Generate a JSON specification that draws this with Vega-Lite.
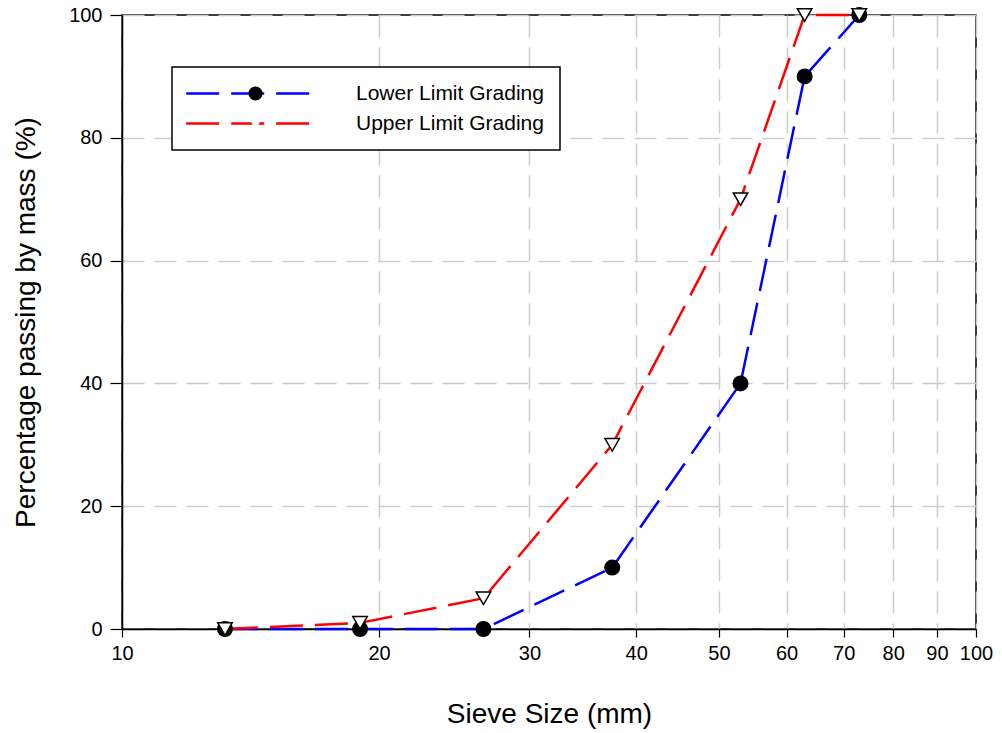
{
  "$schema": "https://vega.github.io/schema/vega-lite/v6.json",
  "width": 854,
  "height": 614,
  "autosize": {"type": "none"},
  "padding": {"left": 122, "top": 15, "right": 26, "bottom": 104},
  "background": "white",
  "config": {
    "font": "Liberation Sans",
    "view": {"stroke": "black", "strokeWidth": 1.5},
    "axis": {
      "labelFont": "Liberation Sans",
      "titleFont": "Liberation Sans",
      "labelFontSize": 20,
      "titleFontSize": 28,
      "titleFontWeight": "normal",
      "labelColor": "black",
      "titleColor": "black",
      "domainColor": "black",
      "domainWidth": 1.5,
      "tickColor": "black",
      "tickWidth": 1.2,
      "gridColor": "#cccccc",
      "gridWidth": 1.5,
      "gridDash": [22, 10]
    }
  },
  "data": {
    "values": [
      {"series": "Lower Limit Grading", "limit": "Lower", "sieve": 13.2, "passing": 0},
      {"series": "Lower Limit Grading", "limit": "Lower", "sieve": 19, "passing": 0},
      {"series": "Lower Limit Grading", "limit": "Lower", "sieve": 26.5, "passing": 0},
      {"series": "Lower Limit Grading", "limit": "Lower", "sieve": 37.5, "passing": 10},
      {"series": "Lower Limit Grading", "limit": "Lower", "sieve": 53, "passing": 40},
      {"series": "Lower Limit Grading", "limit": "Lower", "sieve": 63, "passing": 90},
      {"series": "Lower Limit Grading", "limit": "Lower", "sieve": 73, "passing": 100},
      {"series": "Upper Limit Grading", "limit": "Upper", "sieve": 13.2, "passing": 0},
      {"series": "Upper Limit Grading", "limit": "Upper", "sieve": 19, "passing": 1},
      {"series": "Upper Limit Grading", "limit": "Upper", "sieve": 26.5, "passing": 5},
      {"series": "Upper Limit Grading", "limit": "Upper", "sieve": 37.5, "passing": 30},
      {"series": "Upper Limit Grading", "limit": "Upper", "sieve": 53, "passing": 70},
      {"series": "Upper Limit Grading", "limit": "Upper", "sieve": 63, "passing": 100},
      {"series": "Upper Limit Grading", "limit": "Upper", "sieve": 73, "passing": 100}
    ]
  },
  "encoding": {
    "x": {
      "field": "sieve",
      "type": "quantitative",
      "scale": {"type": "log", "domain": [10, 100], "nice": false},
      "axis": {
        "title": "Sieve Size (mm)",
        "values": [10, 20, 30, 40, 50, 60, 70, 80, 90, 100],
        "format": "d",
        "tickSize": 8,
        "labelPadding": 6,
        "titlePadding": 37,
        "labelFlush": false
      }
    },
    "y": {
      "field": "passing",
      "type": "quantitative",
      "scale": {"domain": [0, 100], "nice": false},
      "axis": {
        "title": "Percentage passing by mass (%)",
        "values": [0, 20, 40, 60, 80, 100],
        "tickSize": 12,
        "labelPadding": 8,
        "titlePadding": 28
      }
    }
  },
  "layer": [
    {
      "mark": {"type": "line", "strokeWidth": 2.5, "strokeDash": [33, 12]},
      "encoding": {
        "color": {
          "field": "series",
          "type": "nominal",
          "scale": {"domain": ["Lower Limit Grading", "Upper Limit Grading"], "range": ["#0000ff", "#ff0000"]},
          "legend": {
            "title": null,
            "orient": "none",
            "legendX": 50,
            "legendY": 52,
            "symbolType": "M-9.8,0H7.9",
            "symbolSize": 200,
            "symbolOffset": 57,
            "symbolStrokeWidth": 2.5,
            "symbolDash": [33, 12],
            "labelFontSize": 21,
            "labelFont": "Liberation Sans",
            "labelColor": "black",
            "labelLimit": 400,
            "labelOffset": 90,
            "rowPadding": 8,
            "padding": 16,
            "fillColor": "white",
            "strokeColor": "black",
            "encode": {"legend": {"update": {"strokeWidth": {"value": 1.5}}}}
          }
        }
      }
    },
    {
      "mark": {"type": "point", "filled": true, "stroke": "black", "strokeWidth": 1.5, "size": 210, "opacity": 1},
      "encoding": {
        "shape": {
          "field": "limit",
          "type": "nominal",
          "scale": {"domain": ["Lower", "Upper"], "range": ["circle", "triangle-down"]},
          "legend": {
            "title": null,
            "orient": "none",
            "legendX": 50,
            "legendY": 52,
            "symbolSize": 200,
            "symbolOffset": 57,
            "symbolStrokeColor": "black",
            "symbolStrokeWidth": 1.5,
            "labelExpr": "''",
            "labelFontSize": 21,
            "labelOffset": 90,
            "rowPadding": 8,
            "padding": 16,
            "encode": {"symbols": {"update": {"stroke": {"value": "black"}, "strokeWidth": {"value": 1.5}, "opacity": {"value": 1}}}}
          }
        },
        "fill": {
          "field": "limit",
          "type": "nominal",
          "scale": {"domain": ["Lower", "Upper"], "range": ["black", "white"]},
          "legend": {
            "title": null,
            "orient": "none",
            "legendX": 50,
            "legendY": 52,
            "symbolSize": 200,
            "symbolOffset": 57,
            "symbolStrokeColor": "black",
            "symbolStrokeWidth": 1.5,
            "labelExpr": "''",
            "labelFontSize": 21,
            "labelOffset": 90,
            "rowPadding": 8,
            "padding": 16,
            "encode": {"symbols": {"update": {"stroke": {"value": "black"}, "strokeWidth": {"value": 1.5}, "opacity": {"value": 1}}}}
          }
        }
      }
    }
  ]
}
